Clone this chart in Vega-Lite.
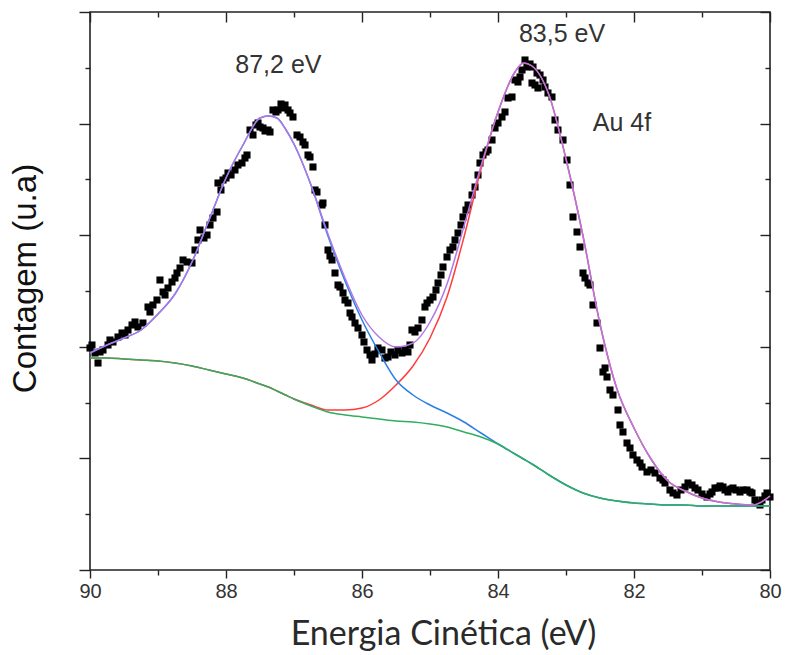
{
  "$schema": "https://vega.github.io/schema/vega-lite/v6.json",
  "width": 680,
  "height": 558,
  "autosize": {"type": "none"},
  "padding": {"left": 90, "top": 12, "right": 17, "bottom": 85},
  "background": "white",
  "config": {
    "view": {"stroke": "#222222", "strokeWidth": 1.6},
    "axis": {
      "domain": false,
      "grid": false,
      "tickColor": "#222222",
      "tickWidth": 1.4,
      "labelFont": "Liberation Sans",
      "labelFontSize": 20,
      "labelColor": "#333333",
      "titleColor": "#2a2a2a"
    }
  },
  "datasets": {
    "pts": [
      {"e": 90.0, "i": 222}, {"e": 89.971, "i": 225}, {"e": 89.926, "i": 217}, {"e": 89.882, "i": 207},
      {"e": 89.853, "i": 218}, {"e": 89.809, "i": 220}, {"e": 89.735, "i": 225}, {"e": 89.706, "i": 230},
      {"e": 89.662, "i": 228}, {"e": 89.588, "i": 233}, {"e": 89.529, "i": 237}, {"e": 89.485, "i": 235},
      {"e": 89.441, "i": 240}, {"e": 89.382, "i": 245}, {"e": 89.338, "i": 248}, {"e": 89.294, "i": 243},
      {"e": 89.221, "i": 247}, {"e": 89.147, "i": 263}, {"e": 89.118, "i": 258}, {"e": 89.074, "i": 265},
      {"e": 89.015, "i": 270}, {"e": 88.971, "i": 290}, {"e": 88.926, "i": 278}, {"e": 88.897, "i": 275},
      {"e": 88.853, "i": 282}, {"e": 88.794, "i": 288}, {"e": 88.75, "i": 292}, {"e": 88.721, "i": 297},
      {"e": 88.676, "i": 302}, {"e": 88.632, "i": 310}, {"e": 88.574, "i": 308}, {"e": 88.5, "i": 307},
      {"e": 88.456, "i": 320}, {"e": 88.412, "i": 330}, {"e": 88.382, "i": 340}, {"e": 88.324, "i": 332},
      {"e": 88.279, "i": 335}, {"e": 88.235, "i": 345}, {"e": 88.191, "i": 352}, {"e": 88.132, "i": 358},
      {"e": 88.118, "i": 387}, {"e": 88.074, "i": 380}, {"e": 88.044, "i": 390}, {"e": 88.0, "i": 392},
      {"e": 87.971, "i": 397}, {"e": 87.926, "i": 395}, {"e": 87.868, "i": 400}, {"e": 87.824, "i": 405},
      {"e": 87.765, "i": 407}, {"e": 87.721, "i": 412}, {"e": 87.691, "i": 415}, {"e": 87.647, "i": 440},
      {"e": 87.603, "i": 435}, {"e": 87.559, "i": 445}, {"e": 87.529, "i": 447}, {"e": 87.5, "i": 443},
      {"e": 87.456, "i": 442}, {"e": 87.426, "i": 439}, {"e": 87.382, "i": 440}, {"e": 87.353, "i": 438},
      {"e": 87.309, "i": 460}, {"e": 87.265, "i": 458}, {"e": 87.235, "i": 460}, {"e": 87.191, "i": 466},
      {"e": 87.162, "i": 462}, {"e": 87.132, "i": 465}, {"e": 87.088, "i": 460}, {"e": 87.059, "i": 457},
      {"e": 87.015, "i": 453}, {"e": 86.956, "i": 435}, {"e": 86.912, "i": 433}, {"e": 86.868, "i": 428},
      {"e": 86.838, "i": 425}, {"e": 86.794, "i": 415}, {"e": 86.765, "i": 413}, {"e": 86.721, "i": 403},
      {"e": 86.691, "i": 380}, {"e": 86.662, "i": 378}, {"e": 86.588, "i": 365}, {"e": 86.574, "i": 367},
      {"e": 86.544, "i": 345}, {"e": 86.5, "i": 320}, {"e": 86.471, "i": 314}, {"e": 86.441, "i": 310},
      {"e": 86.397, "i": 297}, {"e": 86.353, "i": 285}, {"e": 86.324, "i": 283}, {"e": 86.279, "i": 277},
      {"e": 86.25, "i": 270}, {"e": 86.206, "i": 267}, {"e": 86.176, "i": 257}, {"e": 86.147, "i": 253},
      {"e": 86.103, "i": 247}, {"e": 86.059, "i": 242}, {"e": 86.0, "i": 235}, {"e": 85.971, "i": 228},
      {"e": 85.926, "i": 220}, {"e": 85.882, "i": 215}, {"e": 85.853, "i": 210}, {"e": 85.809, "i": 216},
      {"e": 85.765, "i": 222}, {"e": 85.706, "i": 220}, {"e": 85.662, "i": 212}, {"e": 85.618, "i": 213},
      {"e": 85.574, "i": 218}, {"e": 85.515, "i": 215}, {"e": 85.471, "i": 220}, {"e": 85.412, "i": 217},
      {"e": 85.368, "i": 220}, {"e": 85.324, "i": 218}, {"e": 85.294, "i": 225}, {"e": 85.265, "i": 240},
      {"e": 85.221, "i": 238}, {"e": 85.176, "i": 242}, {"e": 85.118, "i": 250}, {"e": 85.074, "i": 263},
      {"e": 85.044, "i": 267}, {"e": 85.0, "i": 270}, {"e": 84.956, "i": 273}, {"e": 84.912, "i": 280},
      {"e": 84.882, "i": 287}, {"e": 84.838, "i": 295}, {"e": 84.809, "i": 303}, {"e": 84.75, "i": 313},
      {"e": 84.706, "i": 320}, {"e": 84.662, "i": 323}, {"e": 84.632, "i": 330}, {"e": 84.588, "i": 337},
      {"e": 84.544, "i": 345}, {"e": 84.515, "i": 353}, {"e": 84.471, "i": 360}, {"e": 84.441, "i": 365},
      {"e": 84.382, "i": 375}, {"e": 84.338, "i": 383}, {"e": 84.294, "i": 395}, {"e": 84.265, "i": 407},
      {"e": 84.221, "i": 415}, {"e": 84.176, "i": 418}, {"e": 84.147, "i": 420}, {"e": 84.088, "i": 430},
      {"e": 84.044, "i": 442}, {"e": 84.0, "i": 447}, {"e": 83.941, "i": 453}, {"e": 83.897, "i": 458},
      {"e": 83.853, "i": 472}, {"e": 83.794, "i": 473}, {"e": 83.75, "i": 490}, {"e": 83.706, "i": 488},
      {"e": 83.676, "i": 493}, {"e": 83.647, "i": 500}, {"e": 83.603, "i": 510}, {"e": 83.574, "i": 503},
      {"e": 83.529, "i": 506}, {"e": 83.485, "i": 503}, {"e": 83.5, "i": 487}, {"e": 83.456, "i": 485},
      {"e": 83.426, "i": 497}, {"e": 83.412, "i": 482}, {"e": 83.382, "i": 495}, {"e": 83.338, "i": 490},
      {"e": 83.309, "i": 483}, {"e": 83.265, "i": 477}, {"e": 83.206, "i": 473}, {"e": 83.162, "i": 450},
      {"e": 83.118, "i": 440}, {"e": 83.044, "i": 430}, {"e": 82.985, "i": 410}, {"e": 82.941, "i": 385},
      {"e": 82.897, "i": 353}, {"e": 82.838, "i": 338}, {"e": 82.794, "i": 323}, {"e": 82.75, "i": 297},
      {"e": 82.721, "i": 292}, {"e": 82.676, "i": 287}, {"e": 82.647, "i": 285}, {"e": 82.603, "i": 265},
      {"e": 82.544, "i": 247}, {"e": 82.5, "i": 222}, {"e": 82.456, "i": 198}, {"e": 82.426, "i": 202},
      {"e": 82.397, "i": 193}, {"e": 82.353, "i": 180}, {"e": 82.309, "i": 175}, {"e": 82.235, "i": 160},
      {"e": 82.206, "i": 145}, {"e": 82.162, "i": 138}, {"e": 82.103, "i": 127}, {"e": 82.059, "i": 122},
      {"e": 82.015, "i": 115}, {"e": 81.956, "i": 110}, {"e": 81.912, "i": 107}, {"e": 81.882, "i": 103},
      {"e": 81.809, "i": 98}, {"e": 81.75, "i": 100}, {"e": 81.691, "i": 97}, {"e": 81.618, "i": 92},
      {"e": 81.574, "i": 90}, {"e": 81.544, "i": 87}, {"e": 81.471, "i": 80}, {"e": 81.426, "i": 77},
      {"e": 81.368, "i": 75}, {"e": 81.309, "i": 80}, {"e": 81.25, "i": 83}, {"e": 81.206, "i": 87},
      {"e": 81.147, "i": 85}, {"e": 81.103, "i": 82}, {"e": 81.059, "i": 80}, {"e": 81.0, "i": 76},
      {"e": 80.926, "i": 73}, {"e": 80.882, "i": 76}, {"e": 80.853, "i": 78}, {"e": 80.809, "i": 82},
      {"e": 80.765, "i": 82}, {"e": 80.735, "i": 84}, {"e": 80.691, "i": 83}, {"e": 80.662, "i": 80},
      {"e": 80.618, "i": 78}, {"e": 80.574, "i": 81}, {"e": 80.544, "i": 82}, {"e": 80.5, "i": 80},
      {"e": 80.441, "i": 78}, {"e": 80.397, "i": 80}, {"e": 80.338, "i": 80}, {"e": 80.294, "i": 78},
      {"e": 80.265, "i": 77}, {"e": 80.221, "i": 70}, {"e": 80.191, "i": 67}, {"e": 80.147, "i": 65},
      {"e": 80.118, "i": 70}, {"e": 80.074, "i": 74}, {"e": 80.044, "i": 77}, {"e": 80.0, "i": 73}
    ],
    "fit": [
      {"e": 90.0, "tot": 217, "p1": 217, "p2": 212, "bg": 212},
      {"e": 89.75, "tot": 225, "p1": 225, "p2": 212, "bg": 212},
      {"e": 89.5, "tot": 232, "p1": 232, "p2": 211, "bg": 211},
      {"e": 89.25, "tot": 240, "p1": 240, "p2": 210, "bg": 210},
      {"e": 89.0, "tot": 256, "p1": 256, "p2": 209, "bg": 209},
      {"e": 88.75, "tot": 276, "p1": 276, "p2": 207, "bg": 207},
      {"e": 88.5, "tot": 308, "p1": 308, "p2": 204, "bg": 204},
      {"e": 88.25, "tot": 350, "p1": 350, "p2": 200, "bg": 200},
      {"e": 88.0, "tot": 392, "p1": 392, "p2": 196, "bg": 196},
      {"e": 87.75, "tot": 425, "p1": 425, "p2": 192, "bg": 192},
      {"e": 87.5, "tot": 452, "p1": 452, "p2": 186, "bg": 186},
      {"e": 87.375, "tot": 454, "p1": 454, "p2": 183, "bg": 183},
      {"e": 87.25, "tot": 452, "p1": 452, "p2": 179, "bg": 179},
      {"e": 87.125, "tot": 441, "p1": 441, "p2": 175, "bg": 175},
      {"e": 87.0, "tot": 426, "p1": 426, "p2": 171, "bg": 171},
      {"e": 86.75, "tot": 385, "p1": 385, "p2": 165, "bg": 164},
      {"e": 86.5, "tot": 336, "p1": 334, "p2": 160, "bg": 158},
      {"e": 86.25, "tot": 292, "p1": 289, "p2": 160, "bg": 155},
      {"e": 86.0, "tot": 255, "p1": 250, "p2": 162, "bg": 153},
      {"e": 85.75, "tot": 233, "p1": 218, "p2": 170, "bg": 151},
      {"e": 85.5, "tot": 223, "p1": 190, "p2": 185, "bg": 149},
      {"e": 85.25, "tot": 227, "p1": 175, "p2": 204, "bg": 148},
      {"e": 85.0, "tot": 248, "p1": 165, "p2": 232, "bg": 146},
      {"e": 84.75, "tot": 286, "p1": 157, "p2": 273, "bg": 143},
      {"e": 84.5, "tot": 344, "p1": 148, "p2": 333, "bg": 138},
      {"e": 84.25, "tot": 404, "p1": 137, "p2": 401, "bg": 133},
      {"e": 84.0, "tot": 458, "p1": 126, "p2": 458, "bg": 126},
      {"e": 83.75, "tot": 498, "p1": 116, "p2": 498, "bg": 116},
      {"e": 83.625, "tot": 507, "p1": 111, "p2": 507, "bg": 111},
      {"e": 83.5, "tot": 504, "p1": 106, "p2": 504, "bg": 106},
      {"e": 83.25, "tot": 475, "p1": 95, "p2": 475, "bg": 95},
      {"e": 83.0, "tot": 411, "p1": 85, "p2": 411, "bg": 85},
      {"e": 82.75, "tot": 334, "p1": 77, "p2": 334, "bg": 77},
      {"e": 82.5, "tot": 246, "p1": 72, "p2": 246, "bg": 72},
      {"e": 82.25, "tot": 181, "p1": 69, "p2": 181, "bg": 69},
      {"e": 82.0, "tot": 142, "p1": 67, "p2": 142, "bg": 67},
      {"e": 81.75, "tot": 111, "p1": 66, "p2": 111, "bg": 66},
      {"e": 81.5, "tot": 89, "p1": 65, "p2": 89, "bg": 65},
      {"e": 81.25, "tot": 79, "p1": 65, "p2": 79, "bg": 65},
      {"e": 81.0, "tot": 72, "p1": 64, "p2": 72, "bg": 64},
      {"e": 80.75, "tot": 68, "p1": 64, "p2": 68, "bg": 64},
      {"e": 80.5, "tot": 66, "p1": 64, "p2": 66, "bg": 64},
      {"e": 80.25, "tot": 65, "p1": 64, "p2": 65, "bg": 64},
      {"e": 80.0, "tot": 74, "p1": 64, "p2": 74, "bg": 64}
    ]
  },
  "layer": [
    {
      "data": {"name": "pts"},
      "mark": {"type": "point", "shape": "square", "filled": true, "size": 50, "color": "#000000", "opacity": 1},
      "encoding": {
        "x": {
          "field": "e", "type": "quantitative",
          "scale": {"domain": [90, 80], "nice": false, "zero": false},
          "axis": {
            "orient": "bottom",
            "values": [80, 81, 82, 83, 84, 85, 86, 87, 88, 89, 90],
            "tickSize": {"condition": {"test": "datum.value % 2 === 0", "value": 8}, "value": 5},
            "labelExpr": "datum.value % 2 === 0 ? datum.label : ''",
            "labelFlush": false,
            "labelOverlap": false,
            "labelPadding": 3,
            "title": "Energia Cinética (eV)",
            "titleFont": "Lato",
            "titleFontSize": 34,
            "titleFontWeight": "normal",
            "titlePadding": 16,
            "titleX": 353
          }
        },
        "y": {
          "field": "i", "type": "quantitative",
          "scale": {"domain": [0, 558], "nice": false, "zero": false},
          "axis": {
            "orient": "left",
            "values": [0, 55.8, 111.6, 167.4, 223.2, 279, 334.8, 390.6, 446.4, 502.2, 558],
            "tickSize": {"condition": {"test": "round(datum.value / 55.8) % 2 === 0", "value": 11}, "value": 5},
            "labels": false,
            "title": "Contagem (u.a)",
            "titleFont": "Liberation Sans",
            "titleFontSize": 33,
            "titleFontWeight": "normal",
            "titleColor": "#111111",
            "titlePadding": 36,
            "titleY": 266
          }
        }
      }
    },
    {
      "data": {"name": "fit"},
      "mark": {"type": "line", "color": "#ff3b3b", "strokeWidth": 1.5, "interpolate": "monotone"},
      "encoding": {
        "x": {
          "field": "e", "type": "quantitative",
          "axis": {
            "orient": "top",
            "values": [80, 81, 82, 83, 84, 85, 86, 87, 88, 89, 90],
            "tickSize": {"condition": {"test": "datum.value % 2 === 0", "value": -10}, "value": -5},
            "labels": false,
            "title": null
          }
        },
        "y": {
          "field": "p2", "type": "quantitative",
          "axis": {
            "orient": "right",
            "values": [0, 55.8, 111.6, 167.4, 223.2, 279, 334.8, 390.6, 446.4, 502.2, 558],
            "tickSize": {"condition": {"test": "round(datum.value / 55.8) % 2 === 0", "value": -10}, "value": -5},
            "labels": false,
            "title": null
          }
        }
      }
    },
    {
      "data": {"name": "fit"},
      "mark": {"type": "line", "color": "#2a7fe6", "strokeWidth": 1.5, "interpolate": "monotone"},
      "encoding": {
        "x": {"field": "e", "type": "quantitative", "axis": null},
        "y": {"field": "p1", "type": "quantitative", "axis": null}
      }
    },
    {
      "data": {"name": "fit"},
      "mark": {"type": "line", "color": "#2fae5f", "strokeWidth": 1.5, "interpolate": "monotone"},
      "encoding": {
        "x": {"field": "e", "type": "quantitative", "axis": null},
        "y": {"field": "bg", "type": "quantitative", "axis": null}
      }
    },
    {
      "data": {"name": "fit"},
      "mark": {"type": "line", "color": "#b277e6", "strokeWidth": 1.5, "interpolate": "monotone"},
      "encoding": {
        "x": {"field": "e", "type": "quantitative", "axis": null},
        "y": {"field": "tot", "type": "quantitative", "axis": null}
      }
    },
    {
      "data": {"values": [{"e": 87.2, "i": 505, "t": "87,2 eV"}]},
      "mark": {"type": "text", "font": "Liberation Sans", "fontSize": 25, "color": "#333333", "align": "center", "baseline": "middle", "dx": -2},
      "encoding": {
        "x": {"field": "e", "type": "quantitative", "axis": null},
        "y": {"field": "i", "type": "quantitative", "axis": null},
        "text": {"field": "t"}
      }
    },
    {
      "data": {"values": [{"e": 83.5, "i": 536, "t": "83,5 eV"}]},
      "mark": {"type": "text", "font": "Liberation Sans", "fontSize": 25, "color": "#333333", "align": "center", "baseline": "middle", "dx": 30},
      "encoding": {
        "x": {"field": "e", "type": "quantitative", "axis": null},
        "y": {"field": "i", "type": "quantitative", "axis": null},
        "text": {"field": "t"}
      }
    },
    {
      "data": {"values": [{"e": 82.176, "i": 447, "t": "Au 4f"}]},
      "mark": {"type": "text", "font": "Liberation Sans", "fontSize": 25, "color": "#333333", "align": "center", "baseline": "middle"},
      "encoding": {
        "x": {"field": "e", "type": "quantitative", "axis": null},
        "y": {"field": "i", "type": "quantitative", "axis": null},
        "text": {"field": "t"}
      }
    }
  ],
  "resolve": {"axis": {"x": "independent", "y": "independent"}}
}
